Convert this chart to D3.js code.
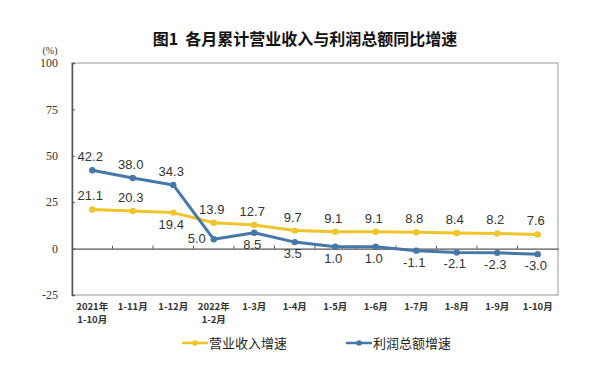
<!DOCTYPE html>
<html>
<head>
<meta charset="utf-8">
<script src="https://cdn.jsdelivr.net/npm/d3@7"></script>
<style>
    body { margin: 0; background: #fff; }
    svg { display: block; }
</style>
</head>
<body>
<script>

const categories = ['2021年\n1-10月', '1-11月', '1-12月', '2022年\n1-2月', '1-3月', '1-4月',
    '1-5月', '1-6月', '1-7月', '1-8月', '1-9月', '1-10月']
const revenueGrowth = [21.1, 20.3, 19.4, 13.9, 12.7, 9.7, 9.1, 9.1, 8.8, 8.4, 8.2, 7.6]
const profitGrowth = [42.2, 38.0, 34.3, 5.0, 8.5, 3.5, 1.0, 1.0, -1.1, -2.1, -2.3, -3.0]
const yTicks = [-25, 0, 25, 50, 75, 100]
const seriesNames = ['营业收入增速', '利润总额增速']

// where each label sits relative to its point
const revenueLabelPos = ['up', 'up', 'down', 'up', 'up', 'up', 'up', 'up', 'up', 'up', 'up', 'up']
const profitLabelPos = ['up', 'up', 'up', 'left', 'down', 'down', 'down', 'down', 'down', 'down', 'down', 'down']

const width = 600, height = 371
const plot = {left: 72, right: 558, top: 63, bottom: 295}
const yellow = '#efc52a', blue = '#4677a9'

const svg = d3.select('body').append('svg')
    .attr('width', width)
    .attr('height', height)

const x = d3.scaleBand().domain(categories).range([plot.left, plot.right])
const y = d3.scaleLinear().domain([-25, 100]).range([plot.bottom, plot.top])
const cx = d => x(d) + x.bandwidth() / 2

// title
svg.append('text')
    .attr('x', 305).attr('y', 45)
    .attr('text-anchor', 'middle')
    .style('font-family', '"Noto Sans CJK SC", sans-serif')
    .style('font-size', '16px')
    .style('font-weight', 'bold')
    .style('white-space', 'pre')
    .attr('fill', '#111')
    .text('图1\u00a0\u00a0各月累计营业收入与利润总额同比增速')

// frame
svg.append('rect')
    .attr('x', plot.left).attr('y', plot.top)
    .attr('width', plot.right - plot.left)
    .attr('height', plot.bottom - plot.top)
    .attr('fill', 'none')
    .attr('stroke', '#999')
    .attr('stroke-width', 1)

// y axis
const yAxis = svg.append('g')
    .attr('transform', `translate(${plot.left},0)`)
    .call(d3.axisRight(y).tickValues(yTicks).tickSize(3).tickFormat(''))
yAxis.select('.domain').attr('stroke', '#555').attr('stroke-width', 1.5)
yAxis.selectAll('.tick line').attr('stroke', '#555')

svg.append('g').selectAll('text')
    .data(yTicks)
    .join('text')
    .attr('x', 58).attr('y', d => y(d))
    .attr('dy', '0.35em')
    .attr('text-anchor', 'end')
    .style('font-family', '"Liberation Serif", serif')
    .style('font-size', '12px')
    .attr('fill', '#333')
    .text(d => d)

svg.append('text')
    .attr('x', 50).attr('y', 54)
    .attr('text-anchor', 'middle')
    .style('font-family', '"Liberation Serif", serif')
    .style('font-size', '10px')
    .attr('fill', '#333')
    .text('(%)')

// zero line with ticks at band edges
const xAxis = svg.append('g')
    .attr('transform', `translate(0,${y(0)})`)
    .call(d3.axisTop(x).tickSize(0).tickFormat(''))
xAxis.select('.domain').attr('stroke', '#555').attr('stroke-width', 1.2)
xAxis.selectAll('.edge')
    .data(categories.slice(1))
    .join('line')
    .attr('x1', d => x(d)).attr('x2', d => x(d))
    .attr('y1', 0).attr('y2', -3)
    .attr('stroke', '#555')

// category labels
const catLabels = svg.append('g').selectAll('text')
    .data(categories)
    .join('text')
    .attr('x', d => cx(d))
    .attr('y', 310)
    .attr('text-anchor', 'middle')
    .style('font-family', '"Noto Sans CJK SC", sans-serif')
    .style('font-size', '9.5px')
    .style('font-weight', 'bold')
    .attr('fill', '#333')
catLabels.each(function(d){
    const t = d3.select(this)
    d.split('\n').forEach((line, i) => {
        t.append('tspan').attr('x', cx(d)).attr('dy', i ? '1.35em' : 0).text(line)
    })
})

function drawSeries(values, color, labelPos){
    const pts = values.map((v, i) => ({cat: categories[i], v: v, pos: labelPos[i]}))
    const line = d3.line().x(d => cx(d.cat)).y(d => y(d.v))

    svg.append('path')
        .datum(pts)
        .attr('d', line)
        .attr('fill', 'none')
        .attr('stroke', color)
        .attr('stroke-width', 3)
        .attr('stroke-linejoin', 'round')

    svg.append('g').selectAll('circle')
        .data(pts)
        .join('circle')
        .attr('cx', d => cx(d.cat))
        .attr('cy', d => y(d.v))
        .attr('r', 3.2)
        .attr('fill', color)

    svg.append('g').selectAll('text')
        .data(pts)
        .join('text')
        .attr('x', d => d.pos === 'left' ? cx(d.cat) - 8 : cx(d.cat) - 2)
        .attr('y', d => {
            if(d.pos === 'up'){ return y(d.v) - 9 }
            else if(d.pos === 'down'){ return y(d.v) + 16 }
            return y(d.v) + 4
        })
        .attr('text-anchor', d => d.pos === 'left' ? 'end' : 'middle')
        .style('font-family', '"Liberation Sans", Arial, sans-serif')
        .style('font-size', '13px')
        .attr('fill', '#333')
        .text(d => d.v.toFixed(1))
}

drawSeries(revenueGrowth, yellow, revenueLabelPos)
drawSeries(profitGrowth, blue, profitLabelPos)

// legend
const legend = svg.append('g')
const legendItems = [
    {name: seriesNames[0], color: yellow, x: 182},
    {name: seriesNames[1], color: blue, x: 346}
]
legendItems.forEach(item => {
    legend.append('line')
        .attr('x1', item.x).attr('x2', item.x + 26)
        .attr('y1', 343).attr('y2', 343)
        .attr('stroke', item.color)
        .attr('stroke-width', 2.5)
    legend.append('circle')
        .attr('cx', item.x + 13).attr('cy', 343)
        .attr('r', 2.8)
        .attr('fill', item.color)
    legend.append('text')
        .attr('x', item.x + 27).attr('y', 348)
        .style('font-family', '"Noto Sans CJK SC", sans-serif')
        .style('font-size', '13px')
        .attr('fill', '#222')
        .text(item.name)
})

</script>
</body>
</html>
